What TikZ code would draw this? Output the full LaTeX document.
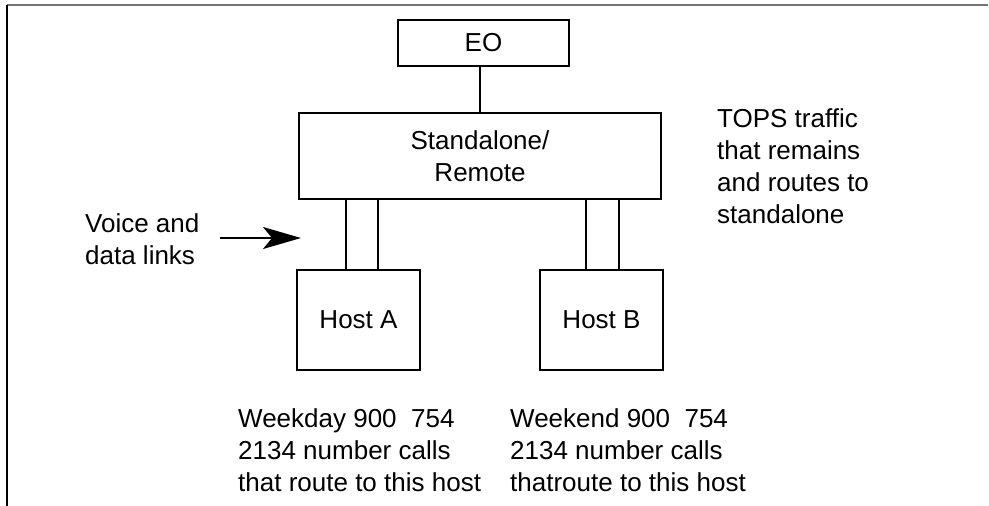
\documentclass[tikz,border=0pt]{standalone}
\usepackage{fontspec}
\setmainfont{Liberation Sans}
\usepackage{tikz}
\usetikzlibrary{arrows.meta, positioning, calc}

\begin{document}
\begin{tikzpicture}[x=1pt, y=-1pt,
		font=\fontsize{26}{32}\selectfont,
		unit/.style={draw, line width=2pt, inner sep=0pt, align=center},
		note/.style={inner sep=0pt, anchor=west, align=left},
		link/.style={line width=2pt}]
		\useasboundingbox (0,0) rectangle (989,506);
		% Frame (top and left only)
		\draw[line width=2pt, black!55] (7,5) -- (988,5);
		\draw[line width=2pt] (7,5) -- (7,506);
		% Switches
		\node[unit, minimum width=171pt, minimum height=46pt] (eo) at (483.5,43) {EO};
		\node[unit, minimum width=362pt, minimum height=86pt] (sa) at (480,156) {Standalone/\\Remote};
		\node[unit, minimum width=123pt, minimum height=100pt] (hosta) at (358.5,320) {Host A};
		\node[unit, minimum width=123pt, minimum height=100pt] (hostb) at (601.5,320) {Host B};
		% Links
		\draw[link] (eo.south -| sa.north) -- (sa.north);
		\draw[link] ([xshift=-12.5pt]hosta.north) -- ([xshift=-12.5pt]hosta.north |- sa.south);
		\draw[link] ([xshift=19.5pt]hosta.north) -- ([xshift=19.5pt]hosta.north |- sa.south);
		\draw[link] ([xshift=-15.5pt]hostb.north) -- ([xshift=-15.5pt]hostb.north |- sa.south);
		\draw[link] ([xshift=17.5pt]hostb.north) -- ([xshift=17.5pt]hostb.north |- sa.south);
		% Labels
		\node[note] (voice) at (85,239) {Voice and\\data links};
		\coordinate (tip) at (301,238);
		\draw[line width=2pt, -{Stealth[length=38pt, width=22pt, inset=9pt]}] ([xshift=20pt]voice.east |- tip) -- (tip);
		\node[note] (tops) at (717,166) {TOPS traffic\\that remains\\and routes to\\standalone};
		\node[note] (weekday) at (238,450) {Weekday 900~~754\\2134 number calls\\that route to this host};
		\node[note] (weekend) at (510,450) {Weekend 900~~754\\2134 number calls\\thatroute to this host};
	\end{tikzpicture}
\end{document}
